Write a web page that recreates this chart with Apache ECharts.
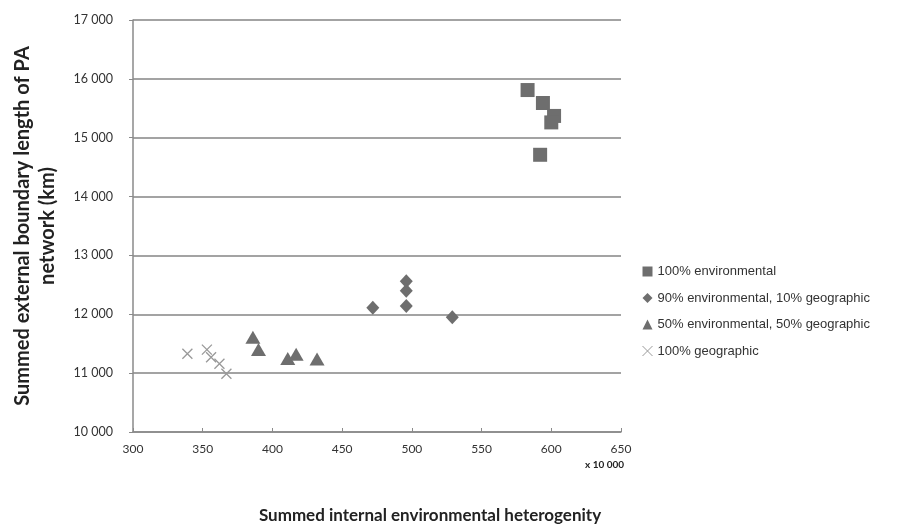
<!DOCTYPE html>
<html>
<head>
<meta charset="utf-8">
<script src="https://cdn.jsdelivr.net/npm/echarts@6/dist/echarts.min.js"></script>
<style>html,body{margin:0;padding:0;background:#fff}#c{width:909px;height:532px}</style>
</head>
<body>
<div id="c"></div>
<script>
const seriesNames = ['100% environmental', '90% environmental, 10% geographic', '50% environmental, 50% geographic', '100% geographic'];
const env100 = [[583, 15810], [594, 15590], [602, 15370], [600, 15260], [592, 14710]];
const env90 = [[472, 12110], [496, 12560], [496, 12400], [496, 12140], [529, 11950]];
const env50 = [[386, 11610], [390, 11400], [411, 11250], [417, 11320], [432, 11240]];
const geo100 = [[339, 11330], [353, 11400], [356, 11270], [362, 11160], [367, 10990]];
const xTicks = [300, 350, 400, 450, 500, 550, 600, 650];
const yTicks = [10000, 11000, 12000, 13000, 14000, 15000, 16000, 17000];

const grey = '#6e6e6e';
const crossPath = 'path://M0,0L10,10M10,0L0,10';
const fmtY = v => { const s = String(v); return s.length > 3 ? s.slice(0, s.length - 3) + ' ' + s.slice(-3) : s; };

const chart = echarts.init(document.getElementById('c'));
chart.setOption({
  animation: false,
  grid: { left: 133, right: 288, top: 20, bottom: 100 },
  xAxis: {
    type: 'value', min: xTicks[0], max: xTicks[xTicks.length - 1], interval: 50,
    name: 'Summed internal environmental heterogenity',
    nameLocation: 'middle', nameGap: 75,
    nameTextStyle: { fontFamily: 'Lato', fontWeight: 'bold', fontSize: 17, color: '#222', padding: [0, 0, 0, 106] },
    axisLine: { show: true, lineStyle: { color: '#8a8a8a', width: 1.5 } },
    axisTick: { show: true, inside: true, length: 4, lineStyle: { color: '#8a8a8a' } },
    axisLabel: { fontFamily: 'Lato', fontSize: 12, color: '#333', margin: 11 },
    splitLine: { show: false }
  },
  yAxis: {
    type: 'value', min: yTicks[0], max: yTicks[yTicks.length - 1], interval: 1000,
    name: 'Summed external boundary length of PA\nnetwork (km)',
    nameLocation: 'middle', nameGap: 73,
    nameTextStyle: { fontFamily: 'Lato', fontWeight: 'bold', fontSize: 20, color: '#222', lineHeight: 25, align: 'center' },
    axisLine: { show: true, lineStyle: { color: '#8a8a8a', width: 1.5 } },
    axisTick: { show: true, length: 4, lineStyle: { color: '#8a8a8a' } },
    axisLabel: { fontFamily: 'Lato', fontSize: 12.5, color: '#333', margin: 20, formatter: fmtY },
    splitLine: { show: true, lineStyle: { color: '#a3a3a3', width: 2 } }
  },
  legend: {
    orient: 'vertical', left: 637, top: 260,
    itemWidth: 10, itemHeight: 10, itemGap: 13.5,
    textStyle: { fontFamily: 'Liberation Sans', fontSize: 13, color: '#333' },
    data: [
      { name: seriesNames[0], icon: 'rect' },
      { name: seriesNames[1], icon: 'diamond' },
      { name: seriesNames[2], icon: 'triangle' },
      { name: seriesNames[3], icon: crossPath, itemStyle: { color: 'transparent', borderColor: '#999', borderWidth: 1 } }
    ]
  },
  graphic: [
    { type: 'text', left: 585, top: 460, style: { text: 'x 10 000', font: 'bold 10px Lato', fill: '#222' } }
  ],
  series: [
    { name: seriesNames[0], type: 'scatter', data: env100, symbol: 'rect', symbolSize: 14, itemStyle: { color: grey, opacity: 1 } },
    { name: seriesNames[1], type: 'scatter', data: env90, symbol: 'diamond', symbolSize: [13, 14], itemStyle: { color: grey, opacity: 1 } },
    { name: seriesNames[2], type: 'scatter', data: env50, symbol: 'triangle', symbolSize: [15, 13], itemStyle: { color: grey, opacity: 1 } },
    { name: seriesNames[3], type: 'scatter', data: geo100, symbol: crossPath, symbolSize: 10, itemStyle: { color: 'transparent', borderColor: '#999', borderWidth: 1.3, opacity: 1 } }
  ]
});
</script>
</body>
</html>
